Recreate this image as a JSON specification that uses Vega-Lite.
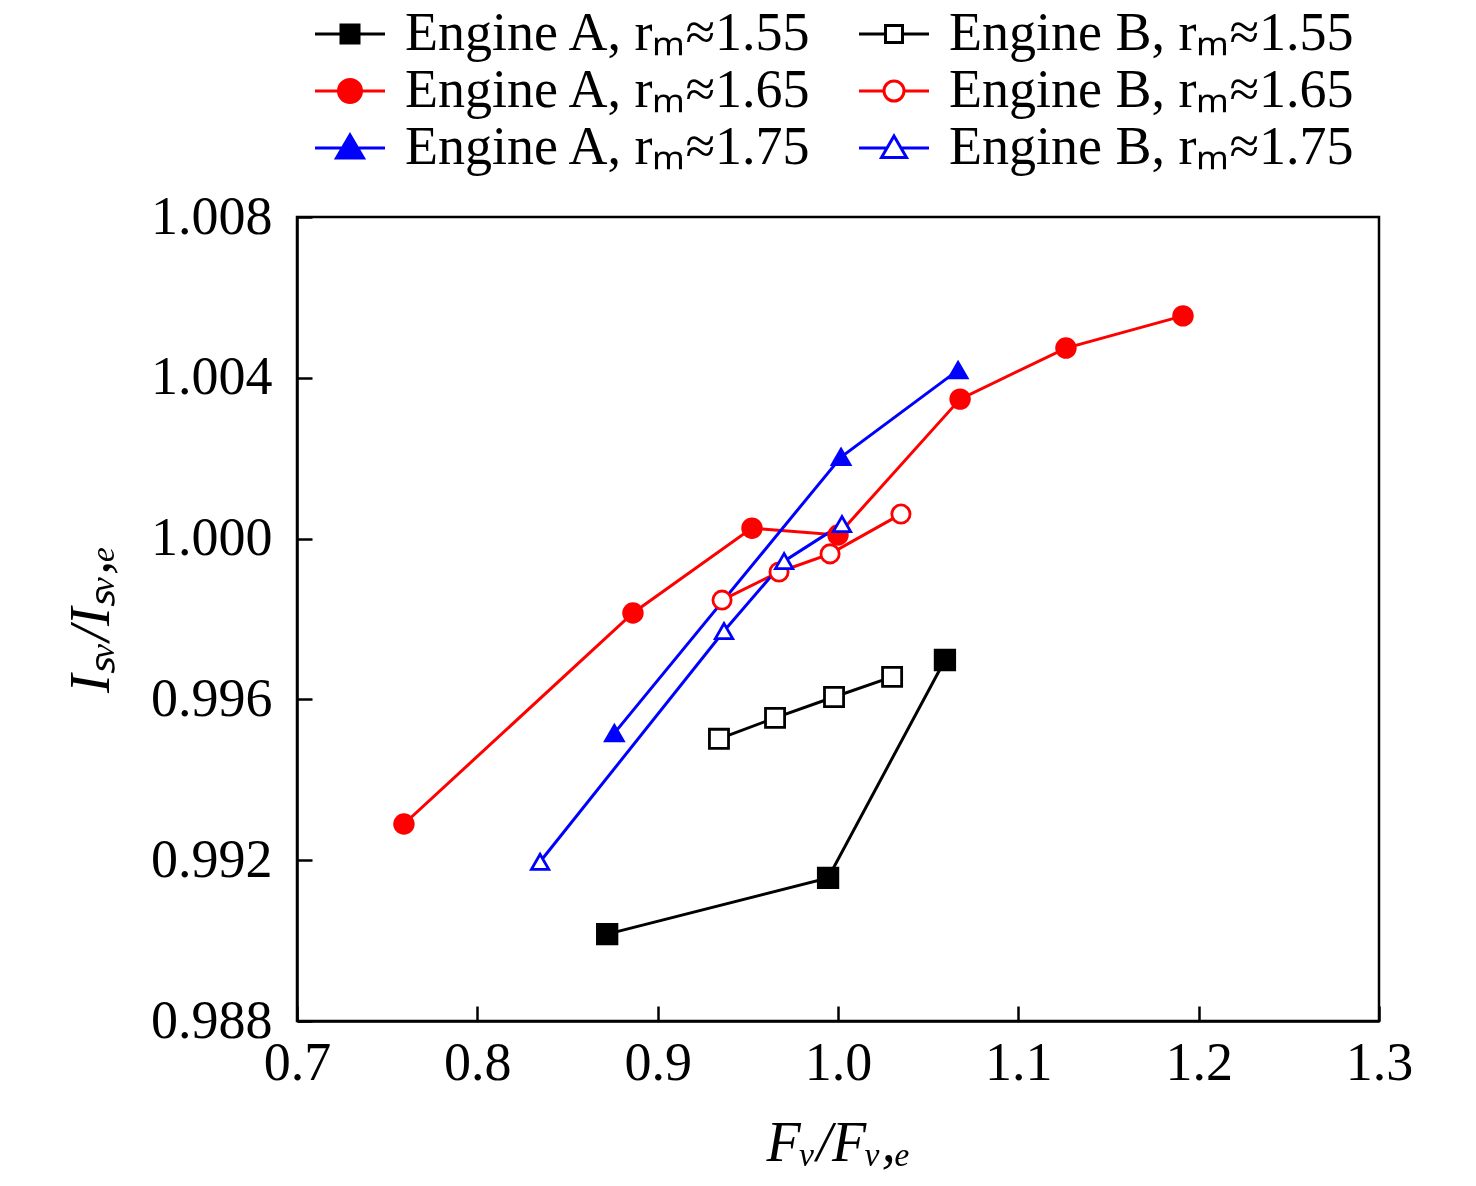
{
  "$schema": "https://vega.github.io/schema/vega-lite/v6.json",
  "autosize": {"type": "none"},
  "padding": {"left": 297, "top": 217, "right": 97, "bottom": 165},
  "width": 1082,
  "height": 804,
  "background": "white",
  "config": {
    "view": {"stroke": "black", "strokeWidth": 2.5},
    "font": "Liberation Serif",
    "axis": {
      "grid": false,
      "domainColor": "black",
      "domainWidth": 2.5,
      "tickColor": "black",
      "tickWidth": 2.5,
      "tickSize": -15,
      "labelColor": "black",
      "labelFont": "Liberation Serif",
      "labelFontSize": 54,
      "labelFlush": false,
      "labelOverlap": false,
      "titleColor": "black",
      "titleFont": "Liberation Serif",
      "titleFontSize": 56,
      "titleFontStyle": "italic",
      "titleFontWeight": "normal"
    }
  },
  "datasets": {
    "points": [
      {"series": "A155", "fv": 0.872, "isv": 0.99016},
      {"series": "A155", "fv": 0.9945, "isv": 0.99156},
      {"series": "A155", "fv": 1.0593, "isv": 0.99698},
      {"series": "B155", "fv": 0.934, "isv": 0.99502},
      {"series": "B155", "fv": 0.9651, "isv": 0.99554},
      {"series": "B155", "fv": 0.9978, "isv": 0.99606},
      {"series": "B155", "fv": 1.030, "isv": 0.99656},
      {"series": "A165", "fv": 0.7593, "isv": 0.9929},
      {"series": "A165", "fv": 0.8863, "isv": 0.99815},
      {"series": "A165", "fv": 0.9523, "isv": 1.00026},
      {"series": "A165", "fv": 1.0, "isv": 1.00009},
      {"series": "A165", "fv": 1.0677, "isv": 1.00347},
      {"series": "A165", "fv": 1.1264, "isv": 1.00474},
      {"series": "A165", "fv": 1.1913, "isv": 1.00554},
      {"series": "B165", "fv": 0.9357, "isv": 0.99847},
      {"series": "B165", "fv": 0.9673, "isv": 0.99917},
      {"series": "B165", "fv": 0.9956, "isv": 0.99962},
      {"series": "B165", "fv": 1.0349, "isv": 1.00061},
      {"series": "A175", "fv": 0.876, "isv": 0.99516},
      {"series": "A175", "fv": 1.0017, "isv": 1.00203},
      {"series": "A175", "fv": 1.0666, "isv": 1.00419},
      {"series": "B175", "fv": 0.8348, "isv": 0.99196},
      {"series": "B175", "fv": 0.9368, "isv": 0.9977},
      {"series": "B175", "fv": 0.9701, "isv": 0.99944},
      {"series": "B175", "fv": 1.0022, "isv": 1.00036}
    ],
    "keys": [
      {"key": "Engine A, rₘ≈1.55", "fv": null, "isv": null},
      {"key": "Engine B, rₘ≈1.55", "fv": null, "isv": null},
      {"key": "Engine A, rₘ≈1.65", "fv": null, "isv": null},
      {"key": "Engine B, rₘ≈1.65", "fv": null, "isv": null},
      {"key": "Engine A, rₘ≈1.75", "fv": null, "isv": null},
      {"key": "Engine B, rₘ≈1.75", "fv": null, "isv": null}
    ]
  },
  "encoding": {
    "x": {
      "field": "fv",
      "type": "quantitative",
      "title": "Fᵥ/Fᵥ,ₑ",
      "scale": {"domain": [0.7, 1.3], "nice": false, "zero": false},
      "axis": {"values": [0.7, 0.8, 0.9, 1.0, 1.1, 1.2, 1.3], "format": ".1f", "labelPadding": 30, "titlePadding": 26}
    },
    "y": {
      "field": "isv",
      "type": "quantitative",
      "title": "Iₛᵥ/Iₛᵥ,ₑ",
      "scale": {"domain": [0.988, 1.008], "nice": false, "zero": false},
      "axis": {"values": [0.988, 0.992, 0.996, 1.0, 1.004, 1.008], "format": ".3f", "labelPadding": 40, "titlePadding": 30}
    }
  },
  "resolve": {"scale": {"stroke": "independent", "fill": "independent", "shape": "independent", "size": "independent"}},
  "layer": [
    {
      "data": {"name": "points"},
      "mark": {"type": "line", "strokeWidth": 3},
      "encoding": {
        "stroke": {
          "field": "series",
          "type": "nominal",
          "scale": {
            "domain": ["A155", "B155", "A165", "B165", "A175", "B175"],
            "range": ["#000000", "#000000", "#ff0000", "#ff0000", "#0000ff", "#0000ff"]
          },
          "legend": null
        }
      }
    },
    {
      "data": {"name": "points"},
      "mark": {"type": "point", "strokeWidth": 2.8, "opacity": 1},
      "encoding": {
        "stroke": {
          "field": "series",
          "type": "nominal",
          "scale": {
            "domain": ["A155", "B155", "A165", "B165", "A175", "B175"],
            "range": ["#000000", "#000000", "#ff0000", "#ff0000", "#0000ff", "#0000ff"]
          },
          "legend": null
        },
        "fill": {
          "field": "series",
          "type": "nominal",
          "scale": {
            "domain": ["A155", "B155", "A165", "B165", "A175", "B175"],
            "range": ["#000000", "#ffffff", "#ff0000", "#ffffff", "#0000ff", "#ffffff"]
          },
          "legend": null
        },
        "size": {
          "field": "series",
          "type": "nominal",
          "scale": {
            "domain": ["A155", "B155", "A165", "B165", "A175", "B175"],
            "range": [380, 300, 530, 400, 480, 400]
          },
          "legend": null
        },
        "shape": {
          "field": "series",
          "type": "nominal",
          "scale": {
            "domain": ["A155", "B155", "A165", "B165", "A175", "B175"],
            "range": ["square", "square", "circle", "circle", "triangle-up", "triangle-up"]
          },
          "legend": null
        }
      }
    },
    {
      "data": {"name": "keys"},
      "mark": {"type": "point", "strokeWidth": 3, "opacity": 1, "clip": true},
      "encoding": {
        "stroke": {
          "field": "key",
          "type": "nominal",
          "scale": {
            "domain": ["Engine A, rₘ≈1.55", "Engine B, rₘ≈1.55", "Engine A, rₘ≈1.65", "Engine B, rₘ≈1.65", "Engine A, rₘ≈1.75", "Engine B, rₘ≈1.75"],
            "range": ["#000000", "#000000", "#ff0000", "#ff0000", "#0000ff", "#0000ff"]
          }
        },
        "fill": {
          "field": "key",
          "type": "nominal",
          "scale": {
            "domain": ["Engine A, rₘ≈1.55", "Engine B, rₘ≈1.55", "Engine A, rₘ≈1.65", "Engine B, rₘ≈1.65", "Engine A, rₘ≈1.75", "Engine B, rₘ≈1.75"],
            "range": ["#000000", "#ffffff", "#ff0000", "#ffffff", "#0000ff", "#ffffff"]
          }
        },
        "shape": {
          "field": "key",
          "type": "nominal",
          "scale": {
            "domain": ["Engine A, rₘ≈1.55", "Engine B, rₘ≈1.55", "Engine A, rₘ≈1.65", "Engine B, rₘ≈1.65", "Engine A, rₘ≈1.75", "Engine B, rₘ≈1.75"],
            "range": [
              "M-3.5,0H-0.9M0.9,0H3.5M-0.9,-0.9H0.9V0.9H-0.9Z",
              "M-3.5,0H-0.85M0.85,0H3.5M-0.85,-0.85H0.85V0.85H-0.85Z",
              "M-3.5,0H-1.15M1.15,0H3.5M-1.15,0A1.15,1.15 0 1,1 1.15,0A1.15,1.15 0 1,1 -1.15,0Z",
              "M-3.5,0H-1M1,0H3.5M-1,0A1,1 0 1,1 1,0A1,1 0 1,1 -1,0Z",
              "M-3.5,0H-0.76M0.76,0H3.5M0,-1.3L1.35,1L-1.35,1Z",
              "M-3.5,0H-0.7M0.7,0H3.5M0,-1.2L1.25,0.95L-1.25,0.95Z"
            ]
          },
          "legend": {
            "title": null,
            "orient": "none",
            "legendX": 26,
            "legendY": -210,
            "columns": 2,
            "direction": "horizontal",
            "padding": 0,
            "rowPadding": 3,
            "columnPadding": 40,
            "symbolSize": 400,
            "symbolStrokeWidth": 3,
            "symbolOpacity": 1,
            "labelOffset": 28,
            "labelFont": "Liberation Serif",
            "labelFontSize": 54,
            "labelColor": "black",
            "labelLimit": 0
          }
        }
      }
    }
  ]
}
